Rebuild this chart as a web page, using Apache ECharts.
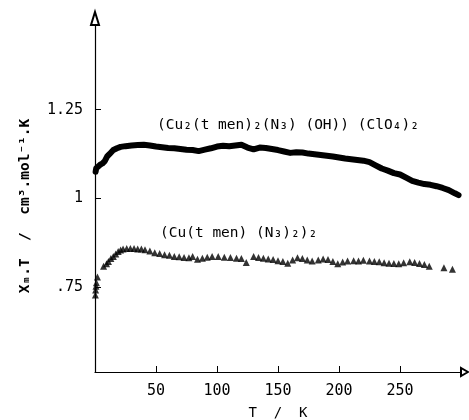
<!DOCTYPE html>
<html>
<head>
<meta charset="utf-8">
<script src="https://cdn.jsdelivr.net/npm/echarts@6/dist/echarts.min.js"></script>
<style>html,body{margin:0;padding:0;background:#fff}#c{width:469px;height:420px}</style>
</head>
<body>
<div id="c"></div>
<script>
// Tick labels
const xTicks = [50, 100, 150, 200, 250];
const yTicks = [0.75, 1, 1.25];
const yTickLabels = {0.75: '.75', 1: '1', 1.25: '1.25'};

// Axis titles and series labels
const xAxisTitle = 'T  /  K';
const yAxisTitle = 'X\u2098.T  /  cm\u00b3.mol\u207b\u00b9.K';
const dinuclearName = '(Cu\u2082(t men)\u2082(N\u2083) (OH)) (ClO\u2084)\u2082';
const mononuclearName = '(Cu(t men) (N\u2083)\u2082)\u2082';

// [Cu2(tmen)2(N3)(OH)](ClO4)2 : T (K), chi_M*T
const dinuclearT = [0.5,1,2,4,6,8,10,12,15,18,21,25,30,35,40,45,50,55,60,65,70,75,80,85,90,95,100,105,110,115,120,125,130,135,140,145,150,155,160,165,170,175,180,185,190,195,200,205,210,215,220,225,230,235,240,245,250,255,260,265,270,275,280,285,290,295,298];
const dinuclearChiT = [1.075,1.085,1.090,1.094,1.098,1.105,1.118,1.125,1.136,1.141,1.145,1.147,1.149,1.150,1.151,1.149,1.146,1.144,1.142,1.141,1.139,1.137,1.136,1.133,1.137,1.141,1.146,1.148,1.147,1.149,1.151,1.143,1.138,1.143,1.142,1.139,1.136,1.132,1.128,1.130,1.129,1.126,1.124,1.122,1.120,1.118,1.115,1.112,1.110,1.108,1.106,1.102,1.093,1.084,1.078,1.071,1.067,1.058,1.049,1.044,1.040,1.038,1.034,1.029,1.023,1.014,1.009];

// [Cu(tmen)(N3)2]2 : T (K), chi_M*T
const mononuclearT = [0.3,0.5,0.8,1.2,2,7,9.5,11,13,15,17,19,21,23,26,29,32,35,38,41,45,49,53,57,61,65,69,73,77,80,84,88,92,96,101,106,111,116,120,124,130,134,138,142,146,150,154,158,162,166,170,174,178,183,187,191,195,199,203,207,212,216,220,225,229,233,237,241,245,249,253,258,262,266,270,274,286,293];
const mononuclearChiT = [0.727,0.741,0.752,0.762,0.778,0.808,0.815,0.822,0.830,0.836,0.843,0.850,0.854,0.857,0.858,0.858,0.858,0.857,0.857,0.855,0.851,0.846,0.844,0.841,0.839,0.836,0.835,0.833,0.832,0.836,0.828,0.831,0.834,0.836,0.836,0.834,0.833,0.831,0.830,0.819,0.836,0.833,0.831,0.829,0.827,0.824,0.822,0.817,0.826,0.832,0.830,0.826,0.823,0.826,0.829,0.827,0.822,0.815,0.820,0.823,0.824,0.823,0.825,0.823,0.822,0.821,0.818,0.817,0.816,0.815,0.818,0.821,0.819,0.816,0.813,0.808,0.804,0.800];

const pair = (xs, ys) => xs.map((x, i) => [x, ys[i]]);
const FONT = "'DejaVu Sans Mono', monospace";

const chart = echarts.init(document.getElementById('c'), null, {renderer: 'canvas'});
chart.setOption({
  animation: false,
  backgroundColor: '#fff',
  grid: {left: 95, right: 8, top: 21, bottom: 48, outerBoundsMode: 'none', containLabel: false},
  xAxis: {
    type: 'value', min: 0, max: 300,
    name: xAxisTitle, nameLocation: 'middle', nameGap: 34,
    nameTextStyle: {fontFamily: FONT, fontSize: 14, color: '#000'},
    splitLine: {show: false},
    axisLine: {lineStyle: {color: '#000', width: 1.2}, symbol: ['none', 'emptyTriangle'], symbolSize: [8, 7], symbolOffset: [0, 3.5]},
    axisTick: {inside: true, length: 6, lineStyle: {color: '#000'}, customValues: xTicks},
    axisLabel: {customValues: xTicks, fontFamily: FONT, fontSize: 15, color: '#000', margin: 12}
  },
  yAxis: {
    type: 'value', min: 0.51, max: 1.5,
    splitLine: {show: false},
    axisLine: {lineStyle: {color: '#000', width: 1.2}, symbol: ['none', 'emptyTriangle'], symbolSize: [8, 13], symbolOffset: [0, 2.5]},
    axisTick: {inside: true, length: 6, lineStyle: {color: '#000'}, customValues: yTicks},
    axisLabel: {customValues: yTicks, fontFamily: FONT, fontSize: 15, color: '#000', margin: 12,
      formatter: v => yTickLabels[v] !== undefined ? yTickLabels[v] : ''}
  },
  graphic: [
    {type: 'text', x: 25, y: 206, rotation: Math.PI / 2,
     style: {text: yAxisTitle, font: "bold 14.5px 'DejaVu Sans Mono'", fill: '#000', align: 'center', verticalAlign: 'middle'}},
    {type: 'text', left: 157, top: 118, style: {text: dinuclearName, font: "14.5px 'DejaVu Sans Mono'", fill: '#000'}},
    {type: 'text', left: 160, top: 226, style: {text: mononuclearName, font: "14.5px 'DejaVu Sans Mono'", fill: '#000'}}
  ],
  series: [
    {type: 'line', data: pair(dinuclearT, dinuclearChiT), showSymbol: false, symbol: 'none',
     lineStyle: {color: '#000', width: 6, cap: 'round', join: 'round'}},
    {type: 'scatter', data: pair(mononuclearT, mononuclearChiT), symbol: 'triangle', symbolSize: 7,
     itemStyle: {color: '#000'}}
  ]
});
</script>
</body>
</html>
